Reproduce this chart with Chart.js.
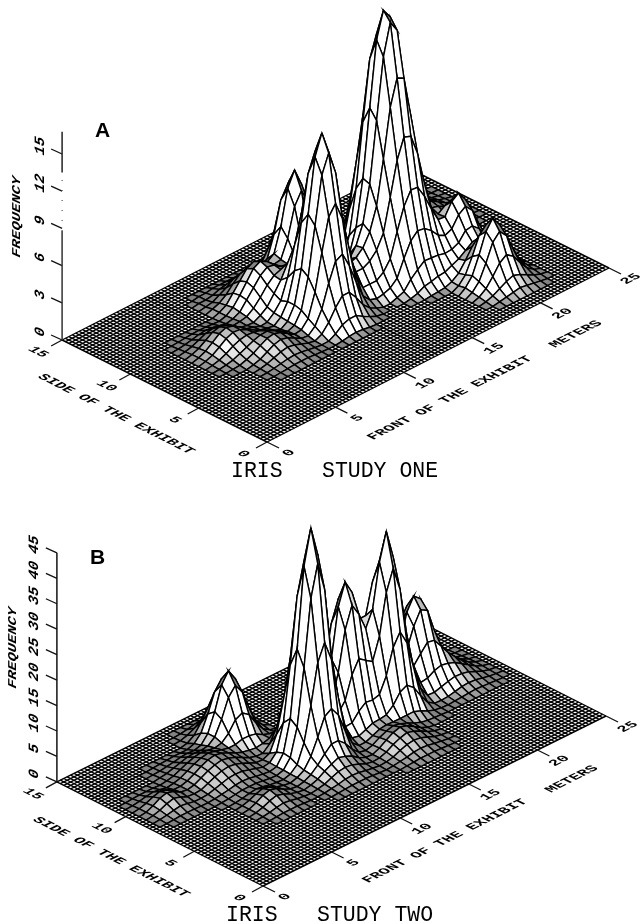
<!DOCTYPE html>
<html>
<head>
<meta charset="utf-8">
<style>
html, body { margin: 0; padding: 0; background: #fff; }
canvas { display: block; }
</style>
<script src="https://cdn.jsdelivr.net/npm/chart.js"></script>
</head>
<body>
<canvas id="chart" width="640" height="924"></canvas>
<script>
const frontTicks = [0, 5, 10, 15, 20, 25];
const sideTicks = [0, 5, 10, 15];
const freqTicksA = [0, 3, 6, 9, 12, 15];
const freqTicksB = [0, 5, 10, 15, 20, 25, 30, 35, 40, 45];

// heights, 0.5 m cells, rows = side, cols = front
const mainPeakA = [
[0,0,.1,.1,.2,.3,.4,.3,.2,.1,.1,0,0],
[0,.1,.2,.4,.8,1.1,1.2,1.1,.8,.4,.2,.1,0],
[.1,.2,.5,1.2,2.1,3,3.3,3,2.1,1.2,.5,.2,.1],
[.1,.4,1.2,2.7,4.8,6.7,7.5,6.7,4.8,2.7,1.2,.4,.1],
[.2,.8,2.1,4.8,8.3,11.9,13.1,12,8.4,4.8,2.1,.8,.2],
[.3,1.1,3,6.7,11.9,16.6,18.5,17,12,6.7,3,1.1,.3],
[.4,1.2,3.3,7.5,13.1,18.3,20.1,19,13.6,7.5,3.3,1.2,.4],
[.3,1.1,3,6.7,11.9,16.6,18.3,16.8,11.9,6.7,3,1.1,.3],
[.2,.8,2.1,4.8,8.3,11.9,13.1,11.9,8.3,4.8,2.1,.8,.2],
[.1,.4,1.2,2.7,4.8,6.7,7.5,6.7,4.8,2.7,1.2,.4,.1],
[.1,.2,.5,1.2,2.1,3,3.3,3,2.1,1.2,.5,.2,.1],
[0,.1,.2,.4,.8,1.1,1.2,1.1,.8,.4,.2,.1,0],
[0,0,.1,.1,.2,.3,.4,.3,.2,.1,.1,0,0]];
const secondPeakA = [
[0,0,.1,.3,.4,.5,.4,.3,.1,0,0],
[0,.2,.5,.9,1.4,1.6,1.4,.9,.5,.2,0],
[.1,.5,1.2,2.4,3.6,4.2,3.6,2.4,1.2,.5,.1],
[.3,.9,2.4,4.8,7.2,8.2,7.2,4.8,2.4,.9,.3],
[.4,1.4,3.6,7.2,10.9,12.5,10.9,7.2,3.6,1.4,.4],
[.5,1.6,4.2,8.2,12.5,14.2,12.5,8.2,4.2,1.6,.5],
[.4,1.4,3.6,7.2,10.9,12.5,10.9,7.2,3.6,1.4,.4],
[.3,.9,2.4,4.8,7.2,8.2,7.2,4.8,2.4,.9,.3],
[.1,.5,1.2,2.4,3.6,4.2,3.6,2.4,1.2,.5,.1],
[0,.2,.5,.9,1.4,1.6,1.4,.9,.5,.2,0],
[0,0,.1,.3,.4,.5,.4,.3,.1,0,0]];
const thirdPeakA = [
[0,.1,.2,.3,.4,.3,.2,.1,0],
[.1,.3,.7,1.2,1.5,1.2,.7,.3,.1],
[.2,.7,1.9,3.3,4.1,3.3,1.9,.7,.2],
[.3,1.2,3.3,6,7.2,6,3.3,1.2,.3],
[.4,1.5,4.1,7.2,8.6,7.2,4.1,1.5,.4],
[.3,1.2,3.3,6,7.2,6,3.3,1.2,.3],
[.2,.7,1.9,3.3,4.1,3.3,1.9,.7,.2],
[.1,.3,.7,1.2,1.5,1.2,.7,.3,.1],
[0,.1,.2,.3,.4,.3,.2,.1,0]];
const leftPeakA = [
[0,.1,.1,.2,.2,.2,.2,.2,.1,.1,0],
[.1,.1,.2,.4,.5,.6,.5,.4,.2,.1,.1],
[.1,.2,.5,.8,1.2,1.3,1.2,.8,.5,.2,.1],
[.2,.4,.8,1.4,1.9,2.1,1.9,1.4,.8,.4,.2],
[.2,.5,1.2,1.9,2.6,2.9,2.6,1.9,1.2,.5,.2],
[.2,.6,1.3,2.1,2.9,3.2,2.9,2.1,1.3,.6,.2],
[.2,.5,1.2,1.9,2.6,2.9,2.6,1.9,1.2,.5,.2],
[.2,.4,.8,1.4,1.9,2.1,1.9,1.4,.8,.4,.2],
[.1,.2,.5,.8,1.2,1.3,1.2,.8,.5,.2,.1],
[.1,.1,.2,.4,.5,.6,.5,.4,.2,.1,.1],
[0,.1,.1,.2,.2,.2,.2,.2,.1,.1,0]];
const lowBumpA1 = [
[0,.04,.09,.14,.16,.14,.09,.04,0],
[.04,.12,.24,.36,.42,.36,.24,.12,.04],
[.09,.24,.48,.73,.83,.73,.48,.24,.09],
[.14,.36,.73,1.1,1.26,1.1,.73,.36,.14],
[.16,.42,.83,1.26,1.45,1.26,.83,.42,.16],
[.14,.36,.73,1.1,1.26,1.1,.73,.36,.14],
[.09,.24,.48,.73,.83,.73,.48,.24,.09],
[.04,.12,.24,.36,.42,.36,.24,.12,.04],
[0,.04,.09,.14,.16,.14,.09,.04,0]];
const lowBumpA2 = [
[0,.03,.07,.12,.13,.12,.07,.03,0],
[.03,.1,.2,.3,.35,.3,.2,.1,.03],
[.07,.2,.4,.6,.7,.6,.4,.2,.07],
[.12,.3,.6,.9,1.05,.9,.6,.3,.12],
[.13,.35,.7,1.05,1.2,1.05,.7,.35,.13],
[.12,.3,.6,.9,1.05,.9,.6,.3,.12],
[.07,.2,.4,.6,.7,.6,.4,.2,.07],
[.03,.1,.2,.3,.35,.3,.2,.1,.03],
[0,.03,.07,.12,.13,.12,.07,.03,0]];
const backPeakA = [
[0,.1,.2,.3,.4,.3,.2,.1,0],
[.1,.3,.6,1,1.2,1,.6,.3,.1],
[.2,.6,1.4,2.2,2.6,2.2,1.4,.6,.2],
[.3,1,2.2,3.6,4.2,3.6,2.2,1,.3],
[.4,1.2,2.6,4.2,5,4.2,2.6,1.2,.4],
[.3,1,2.2,3.6,4.2,3.6,2.2,1,.3],
[.2,.6,1.4,2.2,2.6,2.2,1.4,.6,.2],
[.1,.3,.6,1,1.2,1,.6,.3,.1],
[0,.1,.2,.3,.4,.3,.2,.1,0]];
const middlePeakA = [
[0,.1,.15,.3,.3,.3,.15,.1,0],
[.1,.2,.5,.8,1,.8,.5,.2,.1],
[.15,.5,1.2,1.9,2.2,1.9,1.2,.5,.15],
[.3,.8,1.9,3.1,3.6,3.1,1.9,.8,.3],
[.3,1,2.2,3.6,4.3,3.6,2.2,1,.3],
[.3,.8,1.9,3.1,3.6,3.1,1.9,.8,.3],
[.15,.5,1.2,1.9,2.2,1.9,1.2,.5,.15],
[.1,.2,.5,.8,1,.8,.5,.2,.1],
[0,.1,.15,.3,.3,.3,.15,.1,0]];
const frontPeakA = [
[0,.1,.2,.3,.4,.3,.2,.1,0],
[.1,.3,.6,.9,1.1,.9,.6,.3,.1],
[.2,.6,1.3,2.1,2.5,2.1,1.3,.6,.2],
[.3,.9,2.1,3.5,4.1,3.5,2.1,.9,.3],
[.4,1.1,2.5,4.1,4.9,4.1,2.5,1.1,.4],
[.3,.9,2.1,3.5,4.1,3.5,2.1,.9,.3],
[.2,.6,1.3,2.1,2.5,2.1,1.3,.6,.2],
[.1,.3,.6,.9,1.1,.9,.6,.3,.1],
[0,.1,.2,.3,.4,.3,.2,.1,0]];
const footA = [
[0,.05,.15,.2,.15,.05,0],
[.05,.25,.5,.6,.5,.25,.05],
[.15,.5,1,1.2,1,.5,.15],
[.2,.6,1.2,1.5,1.2,.6,.2],
[.15,.5,1,1.2,1,.5,.15],
[.05,.25,.5,.6,.5,.25,.05],
[0,.05,.15,.2,.15,.05,0]];
const foothillA1 = [
[0,.1,.3,.4,.3,.1,0],
[.1,.4,.9,1.1,.9,.4,.1],
[.3,.9,1.8,2.2,1.8,.9,.3],
[.4,1.1,2.2,2.6,2.2,1.1,.4],
[.3,.9,1.8,2.2,1.8,.9,.3],
[.1,.4,.9,1.1,.9,.4,.1],
[0,.1,.3,.4,.3,.1,0]];
const foothillA2 = [
[0,.1,.2,.3,.2,.1,0],
[.1,.3,.7,.9,.7,.3,.1],
[.2,.7,1.5,1.9,1.5,.7,.2],
[.3,.9,1.9,2.3,1.9,.9,.3],
[.2,.7,1.5,1.9,1.5,.7,.2],
[.1,.3,.7,.9,.7,.3,.1],
[0,.1,.2,.3,.2,.1,0]];
const lowRidgeA = [
[0,.05,.1,.15,.15,.15,.1,.05,0],
[.05,.15,.3,.4,.45,.4,.3,.15,.05],
[.1,.2,.45,.6,.65,.6,.45,.2,.1],
[.05,.15,.3,.4,.45,.4,.3,.15,.05],
[0,.05,.1,.15,.15,.15,.1,.05,0]];

const peakB1 = [
[0,0,.1,.2,.4,.4,.4,.2,.1,0,0],
[0,.1,.4,1.1,2,2.4,2,1.1,.4,.1,0],
[.1,.4,1.6,4.1,7.1,8.4,7.1,4.1,1.6,.4,.1],
[.2,1.1,4.1,10.2,17.8,21.3,17.8,10.2,4.1,1.1,.2],
[.4,2,7.1,17.8,30.6,36.9,31.5,17.8,7.1,2,.4],
[.4,2.4,8.4,21.3,36.9,43.8,38,21.3,8.4,2.4,.4],
[.4,2,7.1,17.8,30.6,36.9,30.6,17.8,7.1,2,.4],
[.2,1.1,4.1,10.2,17.8,21.3,17.8,10.2,4.1,1.1,.2],
[.1,.4,1.6,4.1,7.1,8.4,7.1,4.1,1.6,.4,.1],
[0,.1,.4,1.1,2,2.4,2,1.1,.4,.1,0],
[0,0,.1,.2,.4,.4,.4,.2,.1,0,0]];
const peakB2 = [
[0,0,.1,.1,.2,.3,.2,.1,.1,0,0],
[0,.1,.3,.7,1.3,1.5,1.3,.7,.3,.1,0],
[.1,.3,1,2.6,4.5,5.3,4.5,2.6,1,.3,.1],
[.1,.7,2.6,6.4,11.2,13.4,11.2,6.4,2.6,.7,.1],
[.2,1.3,4.5,11.2,19.3,23.2,19.3,11.2,4.5,1.3,.2],
[.3,1.5,5.3,13.4,23.2,27.1,23.2,13.4,5.3,1.5,.3],
[.2,1.3,4.5,11.2,19.3,23.2,19.3,11.2,4.5,1.3,.2],
[.1,.7,2.6,6.4,11.2,13.4,11.2,6.4,2.6,.7,.1],
[.1,.3,1,2.6,4.5,5.3,4.5,2.6,1,.3,.1],
[0,.1,.3,.7,1.3,1.5,1.3,.7,.3,.1,0],
[0,0,.1,.1,.2,.3,.2,.1,.1,0,0]];
const peakB3 = [
[0,0,.1,.2,.3,.3,.3,.2,.1,0,0],
[0,.1,.3,.8,1.5,1.8,1.5,.8,.3,.1,0],
[.1,.3,1.2,3.1,5.4,6.4,5.4,3.1,1.2,.3,.1],
[.2,.8,3.1,7.8,13.5,16.2,13.5,7.8,3.1,.8,.2],
[.3,1.5,5.4,13.5,23.3,28,23.3,13.5,5.4,1.5,.3],
[.3,1.8,6.4,16.2,28,34.5,29,16.2,6.4,1.8,.3],
[.3,1.5,5.4,13.5,23.3,28,23.3,13.5,5.4,1.5,.3],
[.2,.8,3.1,7.8,13.5,16.2,13.5,7.8,3.1,.8,.2],
[.1,.3,1.2,3.1,5.4,6.4,5.4,3.1,1.2,.3,.1],
[0,.1,.3,.8,1.5,1.8,1.5,.8,.3,.1,0],
[0,0,.1,.2,.3,.3,.3,.2,.1,0,0]];
const peakB4 = [
[0,.1,.4,.7,.9,.7,.4,.1,0],
[.1,.6,1.5,2.6,3.1,2.6,1.5,.6,.1],
[.4,1.5,3.8,6.6,7.9,6.6,3.8,1.5,.4],
[.7,2.6,6.6,11.4,13.7,12,6.6,2.6,.7],
[.9,3.1,7.9,13.7,16,14.2,7.9,3.1,.9],
[.7,2.6,6.6,11.4,13.7,11.4,6.6,2.6,.7],
[.4,1.5,3.8,6.6,7.9,6.6,3.8,1.5,.4],
[.1,.6,1.5,2.6,3.1,2.6,1.5,.6,.1],
[0,.1,.4,.7,.9,.7,.4,.1,0]];
const peakB5 = [
[0,.1,.3,.6,.7,.6,.3,.1,0],
[.1,.5,1.2,2.1,2.5,2.1,1.2,.5,.1],
[.3,1.2,3,5.3,6.3,5.3,3,1.2,.3],
[.6,2.1,5.3,9.1,11,9.1,5.3,2.1,.6],
[.7,2.5,6.3,11,13.2,11,6.3,2.5,.7],
[.6,2.1,5.3,9.1,11,9.1,5.3,2.1,.6],
[.3,1.2,3,5.3,6.3,5.3,3,1.2,.3],
[.1,.5,1.2,2.1,2.5,2.1,1.2,.5,.1],
[0,.1,.3,.6,.7,.6,.3,.1,0]];
const humpB = [
[0,.1,.2,.3,.4,.4,.4,.3,.2,.1,0],
[.1,.2,.4,.6,.9,1,.9,.6,.4,.2,.1],
[.2,.4,.8,1.2,1.6,1.7,1.6,1.2,.8,.4,.2],
[.3,.6,1.2,1.8,2.3,2.5,2.3,1.8,1.2,.6,.3],
[.4,.9,1.6,2.3,2.8,3.1,2.8,2.3,1.6,.9,.4],
[.4,1,1.7,2.5,3.1,3.4,3.1,2.5,1.7,1,.4],
[.4,.9,1.6,2.3,2.8,3.1,2.8,2.3,1.6,.9,.4],
[.3,.6,1.2,1.8,2.3,2.5,2.3,1.8,1.2,.6,.3],
[.2,.4,.8,1.2,1.6,1.7,1.6,1.2,.8,.4,.2],
[.1,.2,.4,.6,.9,1,.9,.6,.4,.2,.1],
[0,.1,.2,.3,.4,.4,.4,.3,.2,.1,0]];
const bumpB1 = [
[0,.1,.2,.3,.4,.3,.2,.1,0],
[.1,.3,.6,.9,1,.9,.6,.3,.1],
[.2,.6,1.2,1.8,2,1.8,1.2,.6,.2],
[.3,.9,1.8,2.6,3,2.6,1.8,.9,.3],
[.4,1,2,3,3.4,3,2,1,.4],
[.3,.9,1.8,2.6,3,2.6,1.8,.9,.3],
[.2,.6,1.2,1.8,2,1.8,1.2,.6,.2],
[.1,.3,.6,.9,1,.9,.6,.3,.1],
[0,.1,.2,.3,.4,.3,.2,.1,0]];
const bumpB2 = [
[0,.1,.2,.2,.2,.1,0],
[.1,.3,.6,.8,.6,.3,.1],
[.2,.6,1.2,1.6,1.2,.6,.2],
[.2,.8,1.6,2,1.6,.8,.2],
[.2,.6,1.2,1.6,1.2,.6,.2],
[.1,.3,.6,.8,.6,.3,.1],
[0,.1,.2,.2,.2,.1,0]];
const bumpB3 = [
[0,.1,.2,.3,.3,.3,.2,.1,0],
[.1,.3,.5,.8,.9,.8,.5,.3,.1],
[.2,.5,1.1,1.6,1.8,1.6,1.1,.5,.2],
[.3,.8,1.6,2.2,2.6,2.2,1.6,.8,.3],
[.3,.9,1.8,2.6,3,2.6,1.8,.9,.3],
[.3,.8,1.6,2.2,2.6,2.2,1.6,.8,.3],
[.2,.5,1.1,1.6,1.8,1.6,1.1,.5,.2],
[.1,.3,.5,.8,.9,.8,.5,.3,.1],
[0,.1,.2,.3,.3,.3,.2,.1,0]];

// [first front cell, first side cell, table]
const patchesA = [
[28, 11, mainPeakA], [18, 10, secondPeakA], [22, 18, thirdPeakA], [15, 16, leftPeakA],
[7, 13, lowBumpA1], [10, 9, lowBumpA2], [37, 9, backPeakA], [32, 10, middlePeakA],
[36, 3, frontPeakA], [19, 9, footA], [26, 12, foothillA1], [30, 10, foothillA2],
[32, 9, lowRidgeA], [40, 17, lowBumpA2]];
const patchesB = [
[18, 11, peakB1], [25, 13, peakB2], [30, 12, peakB3], [37, 15, peakB4], [15, 20, peakB5],
[8, 15, humpB], [2, 16, bumpB2], [10, 9, bumpB2], [40, 13, bumpB1], [27, 7, bumpB3], [18, 8, bumpB3]];

// corners of the floor on the page
const panelA = { x0: 267, y0: 442, fx: 13.68, fy: -6.96, sx: -13.66, sy: -6.8, zs: 12.4 };
const panelB = { x0: 263, y0: 886, fx: 13.72, fy: -6.8, sx: -13.74, sy: -6.94, zs: 5.09 };

function project(p, front, side, z) {
    return { x: p.x0 + p.fx * front + p.sx * side, y: p.y0 + p.fy * front + p.sy * side - p.zs * z };
}

function buildHeights(patches) {
    const h = [];
    for (let j = 0; j <= 30; j++) h.push(new Array(51).fill(0));
    patches.forEach(([i0, j0, table]) => {
        table.forEach((row, dj) => row.forEach((v, di) => { h[j0 + dj][i0 + di] += v; }));
    });
    return h;
}

function line(points, width, color, dash) {
    return { data: points, showLine: true, pointRadius: 0, borderWidth: width, borderColor: color,
             borderDash: dash || [], fill: false, tension: 0 };
}

// flat looking cells get a grey so they sit with the dense floor mesh
function cellColor(pts) {
    let area = 0;
    for (let k = 0; k < 4; k++) area += pts[k].x * pts[k + 1].y - pts[k + 1].x * pts[k].y;
    area = Math.abs(area) / 2;
    const t = Math.max(0, Math.min(1, (105 - area) / 55));
    const g = Math.round(255 - t * 125);
    return `rgb(${g},${g},${g})`;
}

function panelDatasets(p, patches, freqTicks, dashedAxis) {
    const sets = [];
    const h = buildHeights(patches);
    const zTop = freqTicks[freqTicks.length - 1];
    if (dashedAxis) {
        sets.push(line([project(p, 0, 15, 0), project(p, 0, 15, 8.8)], 1.5, '#333'));
        sets.push(line([project(p, 0, 15, 8.8), project(p, 0, 15, 13.5)], 1.2, '#555', [1, 9]));
        sets.push(line([project(p, 0, 15, 13.5), project(p, 0, 15, 16.8)], 1.5, '#222'));
    } else {
        sets.push(line([project(p, 0, 15, 0), project(p, 0, 15, zTop)], 1.5, '#111'));
    }
    freqTicks.forEach(t => {
        const a = project(p, 0, 15, t);
        sets.push(line([a, { x: a.x - 11, y: a.y - 5 }], 1.3, '#111'));
    });
    frontTicks.forEach(t => {
        const a = project(p, t, 0, 0);
        sets.push(line([a, { x: a.x + 12, y: a.y + 6 }], 1.3, '#111'));
    });
    sideTicks.forEach(t => {
        const a = project(p, 0, t, 0);
        sets.push(line([a, { x: a.x - 11, y: a.y + 6 }], 1.3, '#111'));
    });
    // surface cells, first dataset ends up on top so the nearest go first
    for (let i = 0; i < 50; i++) {
        for (let j = 0; j < 30; j++) {
            if (h[j][i] + h[j][i + 1] + h[j + 1][i] + h[j + 1][i + 1] === 0) continue;
            const f = i / 2, s = j / 2;
            const pts = [project(p, f, s, h[j][i]), project(p, f + .5, s, h[j][i + 1]),
                         project(p, f + .5, s + .5, h[j + 1][i + 1]), project(p, f, s + .5, h[j + 1][i]),
                         project(p, f, s, h[j][i])];
            sets.push({
                data: pts, showLine: true, pointRadius: 0, borderWidth: 1.4, borderColor: '#000',
                backgroundColor: cellColor(pts), fill: 'shape', tension: 0
            });
        }
    }
    // flat floor, 0.25 m lines
    for (let k = 0; k <= 100; k++) {
        sets.push(line([project(p, k / 4, 0, 0), project(p, k / 4, 15, 0)], 1.4, '#000'));
    }
    for (let k = 0; k <= 60; k++) {
        sets.push(line([project(p, 0, k / 4, 0), project(p, 25, k / 4, 0)], 1.4, '#000'));
    }
    return sets;
}

function skewText(ctx, text, font, cx, cy, ux, uy, vx, vy) {
    ctx.save();
    ctx.font = font;
    ctx.textAlign = 'center';
    ctx.textBaseline = 'middle';
    ctx.translate(cx, cy);
    ctx.transform(ux, uy, -vx, -vy, 0, 0);
    ctx.fillText(text, 0, 0);
    ctx.restore();
}

const groundFont = 'bold 15px "Liberation Mono"';
const frontU = [.89, -.45], frontV = [-.8, -.4];
const sideU = [.89, .45], sideV = [.8, -.4];
const upU = [0, -1], upV = [-.95, -.4];

const textPlugin = {
    id: 'labels',
    afterDatasetsDraw(chart) {
        const ctx = chart.ctx;
        ctx.fillStyle = '#000';
        [[panelA, freqTicksA, 'FREQUENCY', 17, 217, 116, 414, 450, 398, 576, 334],
         [panelB, freqTicksB, 'FREQUENCY', 13, 648, 111, 857, 445, 841, 572, 779]].forEach(r => {
            const [p, freq, yTitle, yx, yy, sx, sy, fx, fy, mx, my] = r;
            frontTicks.forEach(t => {
                const a = project(p, t, 0, 0);
                skewText(ctx, String(t), groundFont, a.x + 22, a.y + 11, ...frontU, ...frontV);
            });
            sideTicks.forEach(t => {
                const a = project(p, 0, t, 0);
                skewText(ctx, String(t), groundFont, a.x - 24, a.y + 12, ...sideU, ...sideV);
            });
            freq.forEach(t => {
                const a = project(p, 0, 15, t);
                skewText(ctx, String(t), groundFont, a.x - 22, a.y - 8, ...upU, ...upV);
            });
            skewText(ctx, yTitle, 'bold 15px "Liberation Mono"', yx, yy, 0, -1, -.8, -.35);
            skewText(ctx, 'SIDE OF THE EXHIBIT', groundFont, sx, sy, ...sideU, ...sideV);
            skewText(ctx, 'FRONT OF THE EXHIBIT', groundFont, fx, fy, ...frontU, ...frontV);
            skewText(ctx, 'METERS', groundFont, mx, my, ...frontU, ...frontV);
        });
        ctx.textAlign = 'left';
        ctx.textBaseline = 'alphabetic';
        ctx.font = '21.5px "Liberation Mono"';
        ctx.fillText('IRIS', 231, 477);
        ctx.fillText('STUDY ONE', 322, 477);
        ctx.fillText('IRIS', 226, 921);
        ctx.fillText('STUDY TWO', 317, 921);
        ctx.font = 'bold 21px "Liberation Sans"';
        ctx.fillText('A', 95, 137);
        ctx.fillText('B', 90, 564);
    }
};

new Chart(document.getElementById('chart').getContext('2d'), {
    type: 'scatter',
    data: { datasets: [...panelDatasets(panelA, patchesA, freqTicksA, true),
                       ...panelDatasets(panelB, patchesB, freqTicksB, false)] },
    options: {
        responsive: false,
        animation: false,
        parsing: false,
        normalized: true,
        events: [],
        layout: { padding: 0 },
        plugins: { legend: { display: false }, tooltip: { enabled: false }, title: { display: false } },
        scales: {
            x: { type: 'linear', min: 0, max: 640, display: false },
            y: { type: 'linear', min: 0, max: 924, reverse: true, display: false }
        }
    },
    plugins: [textPlugin]
});
</script>
</body>
</html>
